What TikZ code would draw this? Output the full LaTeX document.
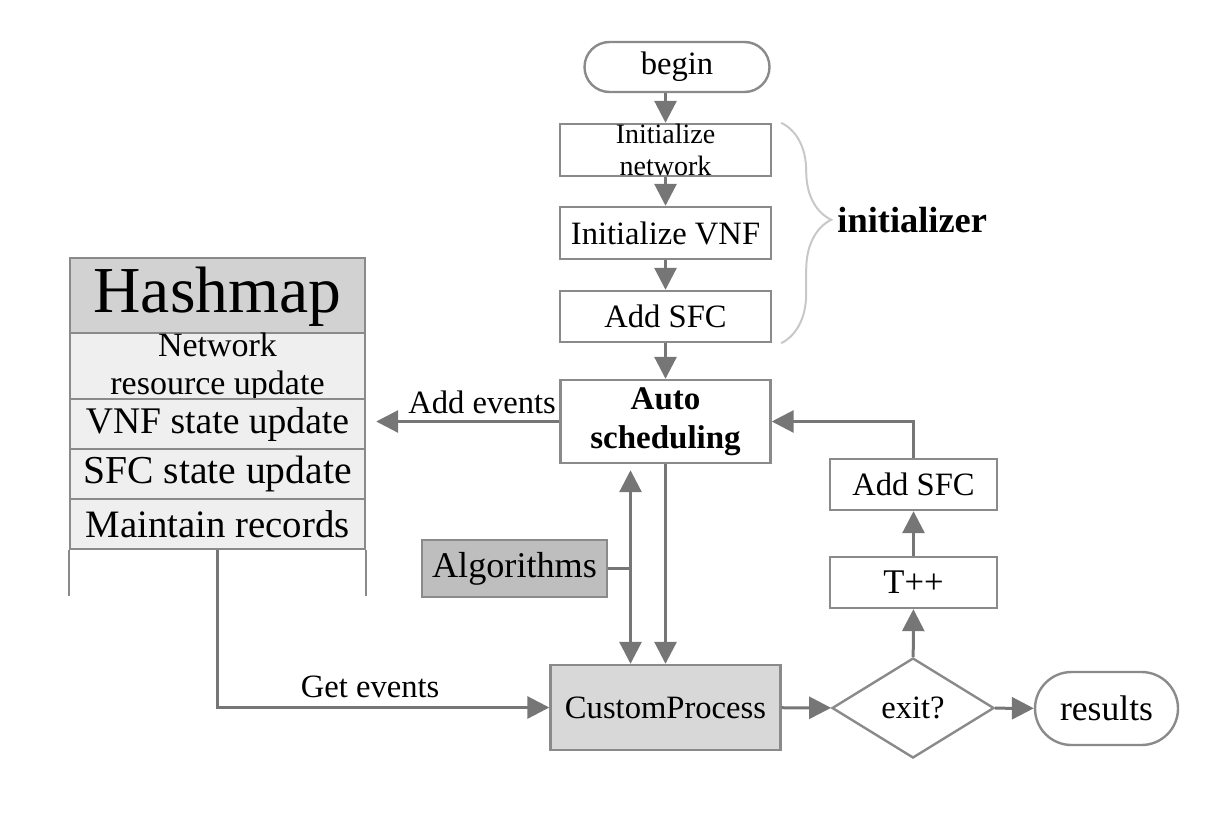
\documentclass[tikz,border=0pt]{standalone}
\usepackage{fontspec}
\setmainfont{Liberation Serif}
\usetikzlibrary{shapes,calc,arrows.meta,decorations.pathreplacing}

\definecolor{linegray}{HTML}{767676}
\definecolor{boxgray}{HTML}{8A8A8A}
\definecolor{bracegray}{HTML}{C8C8C8}
\definecolor{headgray}{HTML}{D2D2D2}
\definecolor{cellgray}{HTML}{EFEFEF}
\definecolor{algogray}{HTML}{BEBEBE}
\definecolor{procgray}{HTML}{D8D8D8}

\newcommand{\flowfont}{\fontsize{16.3}{19.5}\selectfont}
\newcommand{\cellfont}{\fontsize{17}{18.9}\selectfont\lineskiplimit=-30pt\relax}
\newcommand{\tightfont}{\fontsize{14}{15.6}\selectfont\lineskiplimit=-30pt\relax}

\tikzset{
  box/.style={draw=boxgray,line width=1.2pt,rectangle,inner sep=0pt,align=center,font=\flowfont},
  term/.style={box,rounded rectangle},
  hashcell/.style={box,fill=cellgray,minimum width=147.5pt,minimum height=25pt,font=\cellfont},
  flow/.style={draw=linegray,line width=1.5pt,-{Triangle[length=11pt,width=11pt]}},
  link/.style={draw=linegray,line width=1.5pt}
}

\begin{document}
\begin{tikzpicture}[x=0.5pt,y=-0.5pt]
  \useasboundingbox (0,0) rectangle (1229,813);

  % initializer column
  \node[term,minimum width=92.5pt,minimum height=25pt] (begin) at (677,67) {begin};
  \node[box,minimum width=105.5pt,minimum height=26pt,font=\tightfont] (initnet) at (665.5,150) {Initialize\\network};
  \node[box,minimum width=105.5pt,minimum height=26pt] (initvnf) at (665.5,233) {Initialize VNF};
  \node[box,minimum width=105.5pt,minimum height=25.5pt] (initsfc) at (665.5,316.5) {Add SFC};
  \node[box,minimum width=105pt,minimum height=41.5pt,
        font=\fontsize{16.5}{19.5}\selectfont\bfseries] (auto) at (665.5,421.5) {Auto\\scheduling};

  \draw[bracegray,line width=1pt,decorate,decoration={brace,amplitude=25pt,aspect=0.44}]
    ([xshift=4.5pt]initnet.north east) -- ([xshift=4.5pt]initsfc.south east);
  \node[anchor=west,inner sep=0pt,font=\fontsize{18.2}{20}\selectfont\bfseries] (initlabel) at (837,220) {initializer};

  % hashmap
  \node[hashcell,fill=headgray,minimum height=39pt,font=\fontsize{32.8}{34}\selectfont] (hash) at (217.5,297) {Hashmap};
  \node[hashcell,minimum height=31.5pt] (netupd) at (217.5,367.5) {Network\\resource update};
  \node[hashcell,font=\fontsize{18.8}{20}\selectfont] (vnfupd) at (217.5,424) {VNF state update};
  \node[hashcell,font=\fontsize{19.8}{20}\selectfont] (sfcupd) at (217.5,474) {SFC state update};
  \node[hashcell,font=\fontsize{19.4}{20}\selectfont] (records) at (217.5,524) {Maintain records};
  \draw[draw=boxgray,line width=1.2pt] (records.south west) -- ++(0,46)
                                       (records.south east) -- ++(0,46);

  % processing
  \node[box,fill=algogray,minimum width=92.5pt,minimum height=28.5pt,font=\fontsize{18.1}{20}\selectfont] (algo) at (514.5,568.5) {Algorithms};
  \node[box,fill=procgray,minimum width=115pt,minimum height=42.5pt] (custom) at (665.5,707.5) {CustomProcess};
  \node[box,diamond,minimum width=81pt,minimum height=50pt] (exitq) at (913,708) {exit?};
  \node[term,minimum width=71.5pt,minimum height=36.5pt,font=\fontsize{17.8}{20}\selectfont] (results) at (1106.5,708.5) {results};
  \node[box,minimum width=83.5pt,minimum height=25.5pt,font=\fontsize{17.3}{20}\selectfont] (tpp) at (913.5,582.5) {T++};
  \node[box,minimum width=83.5pt,minimum height=25.5pt] (addsfc) at (913.5,484.5) {Add SFC};

  % connectors
  \draw[flow] (begin.south -| initnet.north) -- (initnet.north);
  \path (initnet) edge[flow] (initvnf) (initvnf) edge[flow] (initsfc) (initsfc) edge[flow] (auto);
  \draw[flow,shorten >=5pt] (auto.west) -- node[pos=0.4,above,inner sep=3pt,font=\flowfont] {Add events} (auto.west -| vnfupd.east);
  \draw[flow] (records.south) |- node[pos=0.73,above,inner sep=4pt,font=\flowfont] {Get events} (custom.west);
  \coordinate (algbus) at ([xshift=-17.5pt]auto.south);
  \draw[flow,{Triangle[length=11pt,width=11pt]}-{Triangle[length=11pt,width=11pt]}] ([yshift=-3pt]algbus) -- (algbus |- custom.north);
  \draw[link] (algo.east) -- (algo.east -| algbus);
  \path (auto) edge[flow] (custom) (custom) edge[flow] (exitq) (exitq) edge[flow] (results)
        (exitq) edge[flow] (tpp) (tpp) edge[flow] (addsfc);
  \draw[flow] (addsfc.north) |- (auto.east);
\end{tikzpicture}
\end{document}
